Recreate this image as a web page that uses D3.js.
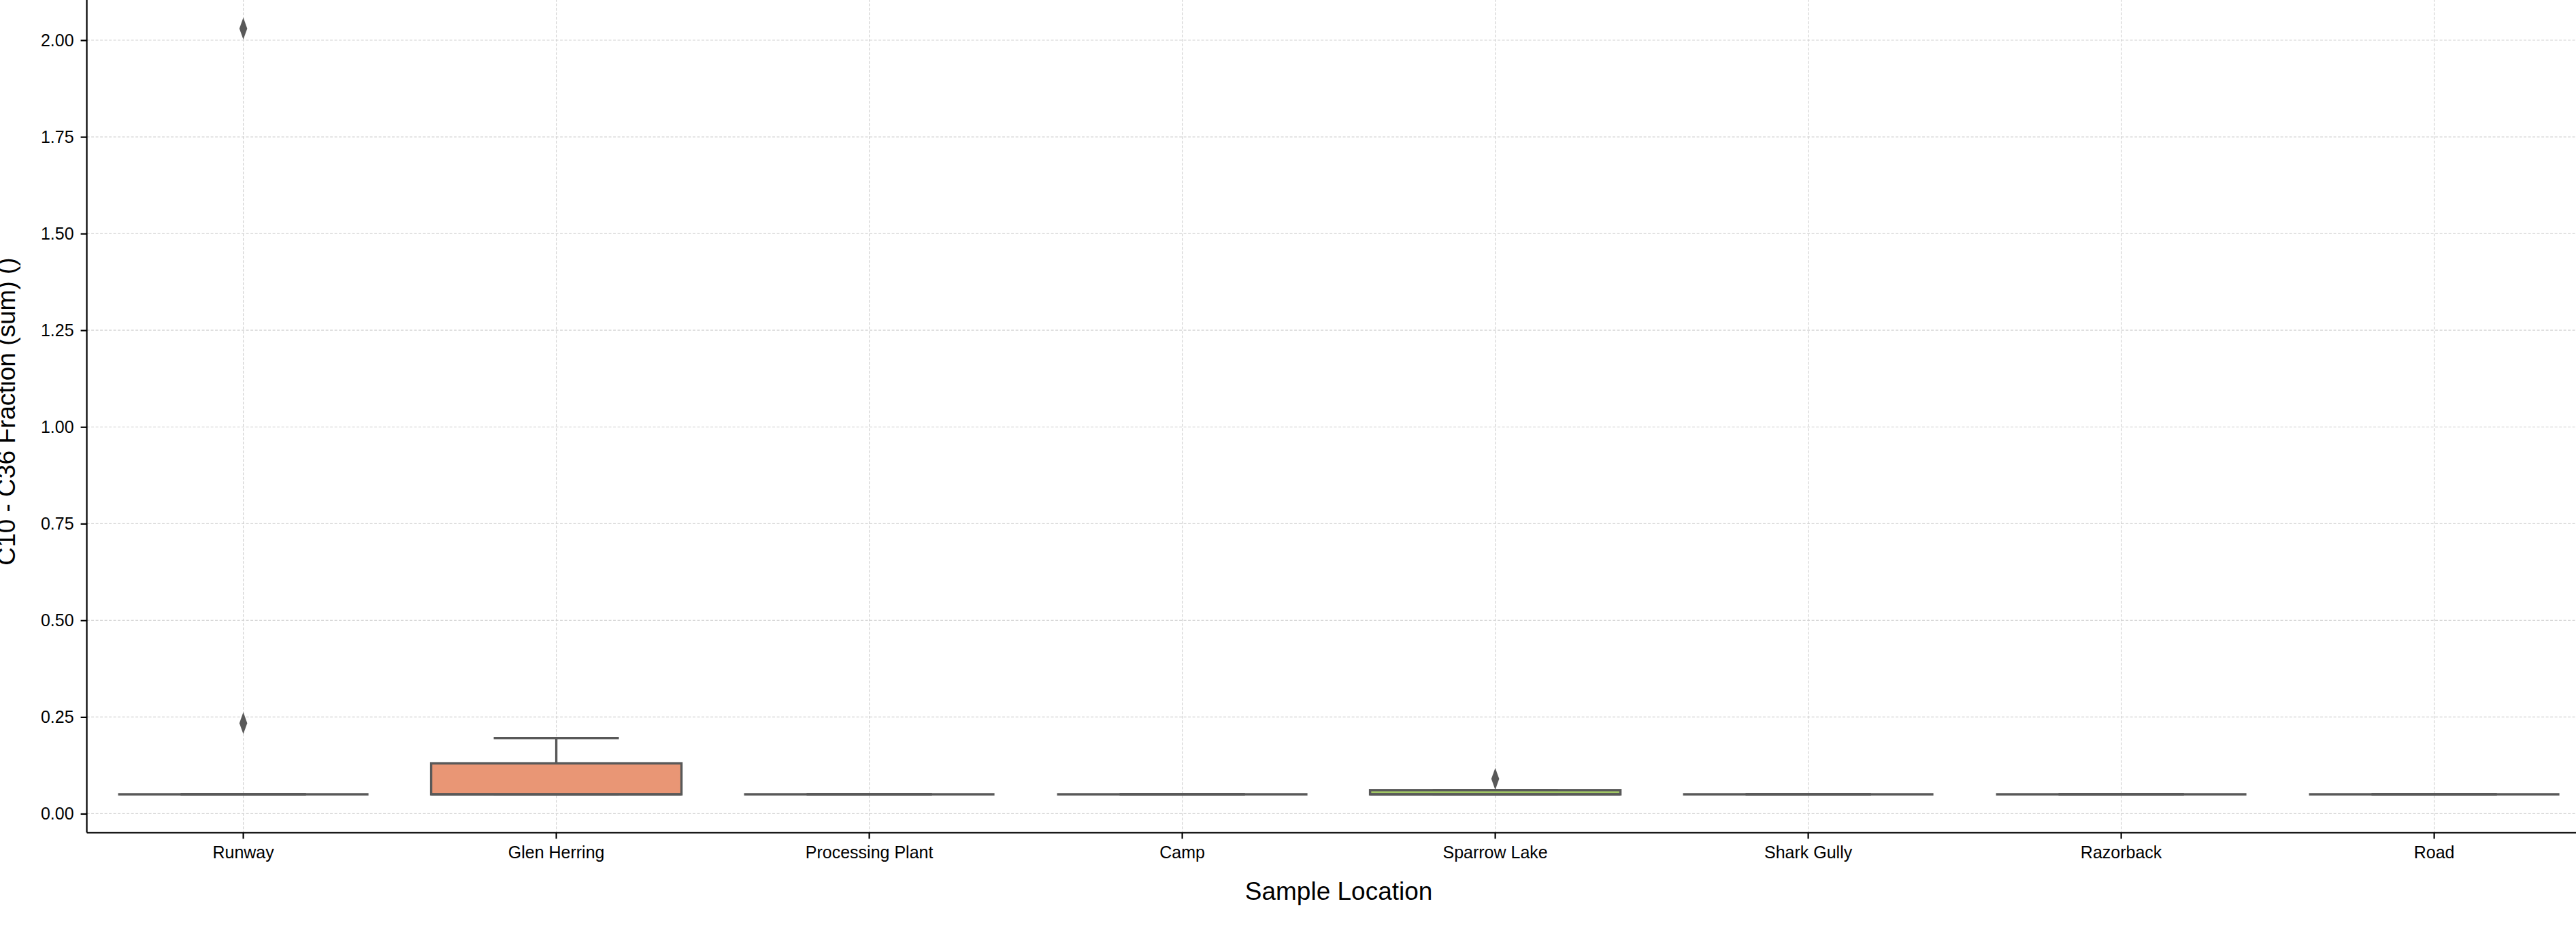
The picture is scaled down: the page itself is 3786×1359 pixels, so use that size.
<!DOCTYPE html>
<html lang="en">
<head>
    <meta charset="UTF-8">
    <title>C10 - C36 Fraction by Sample Location</title>
    <script src="https://d3js.org/d3.v7.min.js"></script>
    <style>
        body { margin: 0; background: white; }
        svg { display: block; font-family: "Liberation Sans", Arial, sans-serif; }
        .tick text { fill: black; }
    </style>
</head>
<body>
    <svg id="chart" width="3786" height="1359"></svg>
    <script>
        // values (box summaries per location)
        const categories = ["Runway", "Glen Herring", "Processing Plant", "Camp", "Sparrow Lake", "Shark Gully", "Razorback", "Road"]
        const q1 = [0.05, 0.05, 0.05, 0.05, 0.05, 0.05, 0.05, 0.05]
        const medians = [0.05, 0.05, 0.05, 0.05, 0.05, 0.05, 0.05, 0.05]
        const q3 = [0.05, 0.13, 0.05, 0.05, 0.061, 0.05, 0.05, 0.05]
        const whiskerLow = [0.05, 0.05, 0.05, 0.05, 0.05, 0.05, 0.05, 0.05]
        const whiskerHigh = [0.05, 0.195, 0.05, 0.05, 0.061, 0.05, 0.05, 0.05]
        const outliers = [[0.234, 2.03], [], [], [], [0.09], [], [], []]
        const yTicks = [0, 0.25, 0.5, 0.75, 1.0, 1.25, 1.5, 1.75, 2.0]
        const palette = ["#66c2a5", "#fc8d62", "#8da0cb", "#e78ac3", "#a6d854", "#ffd92f", "#e5c494", "#b3b3b3"]

        var svg = d3.select("#chart"),
            margin = {top: -14.3, left: 127.6},
            width = 3680,
            height = 1237.6;

        // seaborn style desaturation of the palette
        var colors = palette.map(c => {
            let h = d3.hsl(c)
            h.s *= 0.75
            return h.formatHex()
        })
        var gray = "#595959"
        var lw = 3.4

        var data = categories.map((c, i) => ({
            name: c, q1: q1[i], med: medians[i], q3: q3[i],
            lo: whiskerLow[i], hi: whiskerHigh[i], out: outliers[i], color: colors[i]
        }))

        var lo = d3.min(whiskerLow), hi = d3.max(outliers.flat().concat(whiskerHigh))
        var pad = (hi - lo) * 0.05

        var x = d3.scaleBand()
            .domain(categories)
            .range([0, width])
            .padding(0)

        var y = d3.scaleLinear()
            .domain([lo - pad, hi + pad])
            .range([height, 0])

        var g = svg.append("g")
            .attr("transform", `translate(${margin.left},${margin.top})`)

        // grid
        g.append("g").selectAll("line")
            .data(yTicks)
            .enter().append("line")
            .attr("x1", 0).attr("x2", width)
            .attr("y1", d => y(d)).attr("y2", d => y(d))
            .attr("stroke", "#d2d2d2")
            .attr("stroke-width", 1.2)
            .attr("stroke-dasharray", "4,2.5")
        g.append("g").selectAll("line")
            .data(categories)
            .enter().append("line")
            .attr("x1", d => x(d) + x.bandwidth() / 2).attr("x2", d => x(d) + x.bandwidth() / 2)
            .attr("y1", 0).attr("y2", height)
            .attr("stroke", "#d2d2d2")
            .attr("stroke-width", 1.2)
            .attr("stroke-dasharray", "4,2.5")

        var boxW = x.bandwidth() * 0.8
        var capW = boxW / 2

        var box = g.append("g").selectAll(".box")
            .data(data)
            .enter().append("g")
            .attr("class", "box")
            .attr("transform", d => `translate(${x(d.name) + x.bandwidth() / 2},0)`)

        // whiskers
        box.append("line")
            .attr("x1", 0).attr("x2", 0)
            .attr("y1", d => y(d.q3)).attr("y2", d => y(d.hi))
            .attr("stroke", gray).attr("stroke-width", lw)
        box.append("line")
            .attr("x1", 0).attr("x2", 0)
            .attr("y1", d => y(d.q1)).attr("y2", d => y(d.lo))
            .attr("stroke", gray).attr("stroke-width", lw)
        box.append("line")
            .attr("x1", -capW / 2).attr("x2", capW / 2)
            .attr("y1", d => y(d.hi)).attr("y2", d => y(d.hi))
            .attr("stroke", gray).attr("stroke-width", lw)
        box.append("line")
            .attr("x1", -capW / 2).attr("x2", capW / 2)
            .attr("y1", d => y(d.lo)).attr("y2", d => y(d.lo))
            .attr("stroke", gray).attr("stroke-width", lw)

        box.append("rect")
            .attr("x", -boxW / 2)
            .attr("width", boxW)
            .attr("y", d => y(d.q3))
            .attr("height", d => y(d.q1) - y(d.q3))
            .attr("fill", d => d.color)
            .attr("stroke", gray)
            .attr("stroke-width", lw)

        box.append("line")
            .attr("x1", -boxW / 2).attr("x2", boxW / 2)
            .attr("y1", d => y(d.med)).attr("y2", d => y(d.med))
            .attr("stroke", gray).attr("stroke-width", lw)

        // fliers as thin diamonds
        var diamond = d3.symbol().type(d3.symbolDiamond).size(300)
        box.selectAll(".flier")
            .data(d => d.out)
            .enter().append("path")
            .attr("class", "flier")
            .attr("d", diamond)
            .attr("transform", v => `translate(0,${y(v)}) scale(0.62,1)`)
            .attr("fill", gray)

        // axes
        var xAxis = d3.axisBottom(x).tickSize(9).tickPadding(11)
        var yAxis = d3.axisLeft(y).tickValues(yTicks).tickSize(9).tickPadding(10).tickFormat(d3.format(".2f"))

        var gx = g.append("g")
            .attr("transform", `translate(0,${height})`)
            .call(xAxis)
        var gy = g.append("g")
            .call(yAxis)

        ;[gx, gy].forEach(a => {
            a.select(".domain").attr("stroke", "black").attr("stroke-width", 2.2)
            a.selectAll(".tick line").attr("stroke", "black").attr("stroke-width", 2.2)
            a.selectAll(".tick text").attr("font-size", 25).attr("font-family", "Liberation Sans, Arial, sans-serif")
        })
        gx.select(".domain").attr("d", `M0,0H${width}`)
        gy.select(".domain").attr("d", `M0,${height}V0`)

        svg.append("text")
            .attr("x", margin.left + width / 2)
            .attr("y", 1322)
            .attr("text-anchor", "middle")
            .attr("font-size", 37)
            .text("Sample Location")

        svg.append("text")
            .attr("transform", `translate(22,${margin.top + height / 2}) rotate(-90)`)
            .attr("text-anchor", "middle")
            .attr("font-size", 37)
            .text("C10 - C36 Fraction (sum) ()")
    </script>
</body>
</html>
